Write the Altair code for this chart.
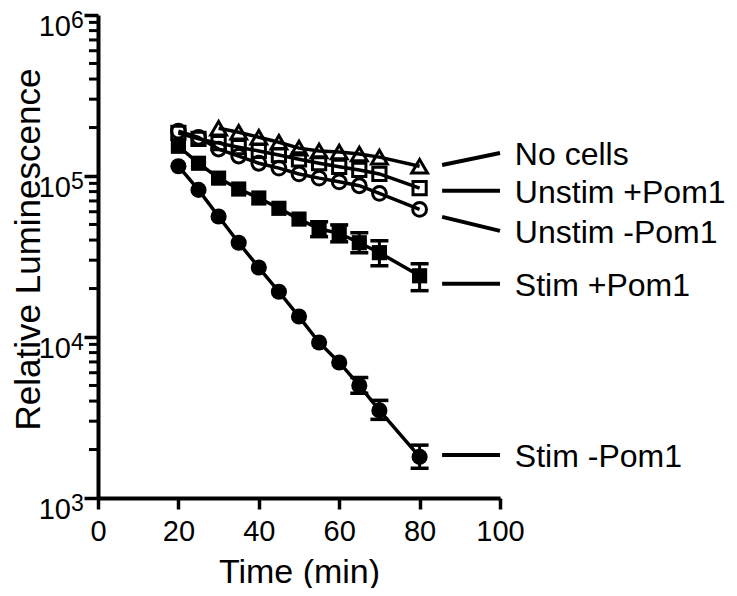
import altair as alt
import pandas as pd

# ---------------- data ----------------
series_names = ["No cells", "Unstim +Pom1", "Unstim -Pom1", "Stim +Pom1", "Stim -Pom1"]

t_main = [20, 25, 30, 35, 40, 45, 50, 55, 60, 65, 70, 80]
t_nocells = [30, 35, 40, 45, 50, 55, 60, 65, 70, 80]

no_cells = [198e3, 187e3, 174e3, 162e3, 149e3, 143e3, 141e3, 137e3, 131e3, 115e3]
unstim_pom = [185e3, 170e3, 160e3, 151e3, 143e3, 135e3, 127e3, 120e3, 114e3, 109e3, 103e3, 84e3]
unstim_nopom = [190e3, 174e3, 147e3, 133e3, 120e3, 112e3, 103e3, 97e3, 92e3, 87e3, 78e3, 62e3]
stim_pom = [153e3, 120e3, 97e3, 83e3, 73e3, 63e3, 54e3, 47e3, 44e3, 38.5e3, 33.4e3, 24e3]
stim_nopom = [115e3, 82e3, 56e3, 38.5e3, 27e3, 19.1e3, 13.4e3, 9.25e3, 6.95e3, 5.0e3, 3.5e3, 1.8e3]

err_t_stim_pom = [55, 60, 65, 70, 80]
err_lo_stim_pom = [42e3, 39e3, 33.4e3, 27.7e3, 19.4e3]
err_hi_stim_pom = [52e3, 49.7e3, 44.4e3, 39.6e3, 28.5e3]

err_t_stim_nopom = [65, 70, 80]
err_lo_stim_nopom = [4.47e3, 3.08e3, 1.53e3]
err_hi_stim_nopom = [5.61e3, 4.04e3, 2.13e3]

# label annotations (leader line start / label level, in data units)
lead_start = [117e3, 81e3, 55.7e3, 21.4e3, 1.85e3]
label_level = [139e3, 81e3, 45.6e3, 21.4e3, 1.85e3]

x_ticks = [0, 20, 40, 60, 80, 100]
decades = [1e3, 1e4, 1e5, 1e6]
exponents = ["3", "4", "5", "6"]
minor_ticks = [m * d for d in [1e3, 1e4, 1e5] for m in range(2, 10)]

# ---------------- tables ----------------
all_series = [
    ("No cells", t_nocells, no_cells),
    ("Unstim +Pom1", t_main, unstim_pom),
    ("Unstim -Pom1", t_main, unstim_nopom),
    ("Stim +Pom1", t_main, stim_pom),
    ("Stim -Pom1", t_main, stim_nopom),
]
rows = []
for name, ts, vs in all_series:
    for t, v in zip(ts, vs):
        rows.append({"series": name, "t": t, "value": v})
df = pd.DataFrame(rows)

err_rows = []
for t, lo, hi in zip(err_t_stim_pom, err_lo_stim_pom, err_hi_stim_pom):
    err_rows.append({"series": "Stim +Pom1", "t": t, "lo": lo, "hi": hi})
for t, lo, hi in zip(err_t_stim_nopom, err_lo_stim_nopom, err_hi_stim_nopom):
    err_rows.append({"series": "Stim -Pom1", "t": t, "lo": lo, "hi": hi})
df_err = pd.DataFrame(err_rows)

LEAD_X0, LEAD_X1, LABEL_X = 85.6, 100, 103.7
df_lab = pd.DataFrame({
    "series": series_names,
    "x0": [LEAD_X0] * 5,
    "x1": [LEAD_X1] * 5,
    "y0": lead_start,
    "y1": label_level,
    "lx": [LABEL_X] * 5,
})

df_dec = pd.DataFrame({"value": decades, "base": ["10"] * 4, "exp": exponents})
df_minor = pd.DataFrame({"value": minor_ticks})

# ---------------- scales / axes ----------------
FONT = "Liberation Sans"
xs = alt.Scale(domain=[0, 100], nice=False, zero=False)
ysc = alt.Scale(type="log", domain=[1e3, 1e6], nice=False)

x_axis = alt.Axis(
    values=x_ticks, title="Time (min)", tickSize=11, tickWidth=3.5, domainWidth=4,
    labelFontSize=29, labelPadding=8, labelFlush=False,
    labelFont=FONT, titleFont=FONT, titleFontSize=34, titleFontWeight="normal",
    titleBaseline="alphabetic", titleY=84, grid=False, labelColor="black",
    titleColor="black", domainColor="black", tickColor="black",
)
y_axis = alt.Axis(
    values=decades, labels=False, tickSize=14,
    tickWidth=3.5, domainWidth=4,
    title="Relative Luminescence", titleFont=FONT, titleFontSize=35,
    titleFontWeight="normal", titleBaseline="alphabetic", titleX=-59, titleY=234,
    titleAngle=270, grid=False, titleColor="black", domainColor="black", tickColor="black",
)


def X(f, ax=alt.Undefined):
    return alt.X(f, type="quantitative", scale=xs, axis=ax)


def Y(f, ax=alt.Undefined):
    return alt.Y(f, type="quantitative", scale=ysc, axis=ax)


lines = alt.Chart(df).mark_line(color="black", strokeWidth=3.5).encode(
    x=X("t", x_axis), y=Y("value", y_axis), detail="series:N"
)

marker_spec = {
    "No cells": ("triangle-up", False, 250),
    "Unstim +Pom1": ("square", False, 175),
    "Unstim -Pom1": ("circle", False, 190),
    "Stim +Pom1": ("square", True, 230),
    "Stim -Pom1": ("circle", True, 260),
}
marker_layers = []
for name in series_names:
    shape, filled, size = marker_spec[name]
    marker_layers.append(
        alt.Chart(df).transform_filter(alt.datum.series == name).mark_point(
            shape=shape, filled=filled, size=size, color="black",
            strokeWidth=3, opacity=1,
        ).encode(x=X("t"), y=Y("value"))
    )

err_rule = alt.Chart(df_err).mark_rule(color="black", strokeWidth=3).encode(
    x=X("t"), y=Y("lo"), y2="hi"
)
err_cap_lo = alt.Chart(df_err).mark_tick(orient="horizontal", size=18, thickness=3.5, color="black", opacity=1).encode(
    x=X("t"), y=Y("lo")
)
err_cap_hi = alt.Chart(df_err).mark_tick(orient="horizontal", size=18, thickness=3.5, color="black", opacity=1).encode(
    x=X("t"), y=Y("hi")
)

minor = alt.Chart(df_minor).mark_rule(color="black", strokeWidth=3).encode(
    x=alt.value(-9), x2=alt.value(0), y=Y("value")
)

leaders = alt.Chart(df_lab).mark_rule(color="black", strokeWidth=4).encode(
    x=X("x0"), x2="x1", y=Y("y0"), y2="y1"
)
labels = alt.Chart(df_lab).mark_text(
    align="left", baseline="middle", fontSize=32, font=FONT, color="black", dy=2
).encode(x=X("lx"), y=Y("y1"), text="series:N")

ylab_base = alt.Chart(df_dec).mark_text(
    align="right", baseline="middle", fontSize=29, font=FONT, color="black", dy=12
).encode(x=alt.value(-27), y=Y("value"), text="base:N")
ylab_exp = alt.Chart(df_dec).mark_text(
    align="left", baseline="middle", fontSize=23, font=FONT, color="black", dy=6
).encode(x=alt.value(-27), y=Y("value"), text="exp:N")

chart = alt.layer(
    lines, minor, err_rule, err_cap_lo, err_cap_hi, *marker_layers, leaders, labels, ylab_base, ylab_exp
).properties(
    width=402, height=483,
    padding={"left": 90, "top": 7, "right": 229, "bottom": 90},
    autosize=alt.AutoSizeParams(type="none"),
    background="white",
).configure_view(stroke=None)

chart.save("out.html", embed_options={"renderer": "svg", "actions": False})
